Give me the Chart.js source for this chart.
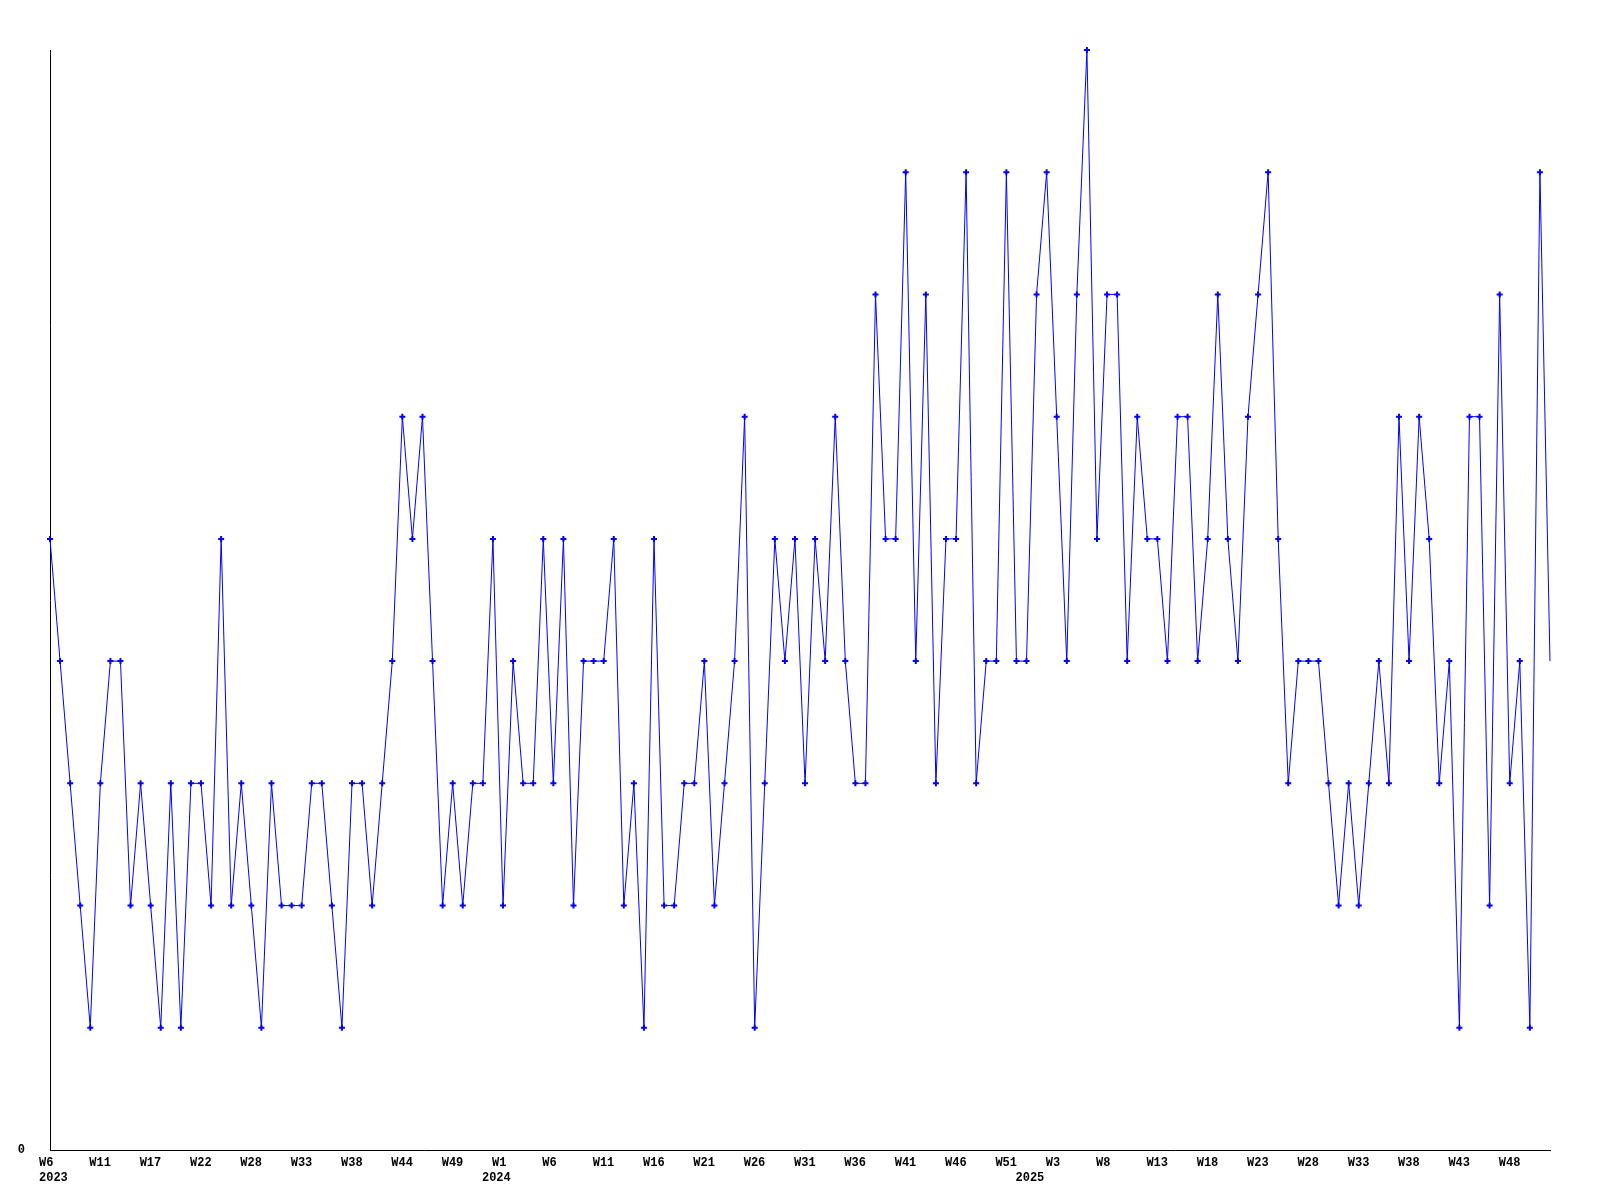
<!DOCTYPE html>
<html>
<head>
<meta charset="utf-8">
<script src="https://cdn.jsdelivr.net/npm/chart.js@4.4.1/dist/chart.umd.min.js"></script>
<style>
  body { margin: 0; background: #fff; }
  canvas { display: block; }
</style>
</head>
<body>
<canvas id="weeklyChart" width="1600" height="1200"></canvas>
<script>
// weekly counts, one per point, oldest first
const counts = [
  5, 4, 3, 2, 1, 3, 4, 4, 2, 3,
  2, 1, 3, 1, 3, 3, 2, 5, 2, 3,
  2, 1, 3, 2, 2, 2, 3, 3, 2, 1,
  3, 3, 2, 3, 4, 6, 5, 6, 4, 2,
  3, 2, 3, 3, 5, 2, 4, 3, 3, 5,
  3, 5, 2, 4, 4, 4, 5, 2, 3, 1,
  5, 2, 2, 3, 3, 4, 2, 3, 4, 6,
  1, 3, 5, 4, 5, 3, 5, 4, 6, 4,
  3, 3, 7, 5, 5, 8, 4, 7, 3, 5,
  5, 8, 3, 4, 4, 8, 4, 4, 7, 8,
  6, 4, 7, 9, 5, 7, 7, 4, 6, 5,
  5, 4, 6, 6, 4, 5, 7, 5, 4, 6,
  7, 8, 5, 3, 4, 4, 4, 3, 2, 3,
  2, 3, 4, 3, 6, 4, 6, 5, 3, 4,
  1, 6, 6, 2, 7, 3, 4, 1, 8, 4
];

// every 5th point gets a week label
const weekTicks = ['W6', 'W11', 'W17', 'W22', 'W28', 'W33', 'W38', 'W44', 'W49', 'W1',
  'W6', 'W11', 'W16', 'W21', 'W26', 'W31', 'W36', 'W41', 'W46', 'W51',
  'W3', 'W8', 'W13', 'W18', 'W23', 'W28', 'W33', 'W38', 'W43', 'W48'];
const years = ['2023', '2024', '2025'];
const yearAt = [0, 44, 97];

const labels = counts.map((c, i) => {
  const lines = [i % 5 === 0 ? weekTicks[i / 5] : ''];
  const y = yearAt.indexOf(i);
  if (y >= 0) lines.push(years[y]);
  return lines;
});

const lastIndex = counts.length - 1;
const tickFont = { family: '"Liberation Mono", "DejaVu Sans Mono", monospace', size: 12, weight: 'bold', lineHeight: 1.25 };

new Chart(document.getElementById('weeklyChart'), {
  type: 'line',
  data: {
    labels: labels,
    datasets: [{
      data: counts,
      borderColor: '#0000ff',
      backgroundColor: '#0000ff',
      borderWidth: 1,
      tension: 0,
      clip: false,
      pointStyle: 'cross',
      pointRadius: ctx => ctx.dataIndex === lastIndex ? 0 : 3,
      pointBorderWidth: 2,
      pointBackgroundColor: '#0000ff',
      pointBorderColor: '#0000ff'
    }]
  },
  options: {
    responsive: false,
    animation: false,
    layout: { padding: { top: 50, right: 50, left: 0, bottom: 0 } },
    plugins: { legend: { display: false }, tooltip: { enabled: false } },
    scales: {
      x: {
        offset: false,
        grid: { display: false, drawTicks: false },
        border: { display: true, color: '#000', width: 1 },
        ticks: {
          autoSkip: false,
          maxRotation: 0,
          minRotation: 0,
          align: 'start',
          labelOffset: -11,
          padding: 5,
          color: '#000',
          font: tickFont
        },
        afterFit: scale => { scale.height = 50; }
      },
      y: {
        min: 0,
        max: 9,
        grid: { display: false, drawTicks: false },
        border: { display: true, color: '#000', width: 1 },
        ticks: {
          stepSize: 1,
          padding: 25,
          color: '#000',
          font: tickFont,
          callback: v => v === 0 ? '0' : ''
        },
        afterFit: scale => { scale.width = 50; }
      }
    }
  }
});
</script>
</body>
</html>
